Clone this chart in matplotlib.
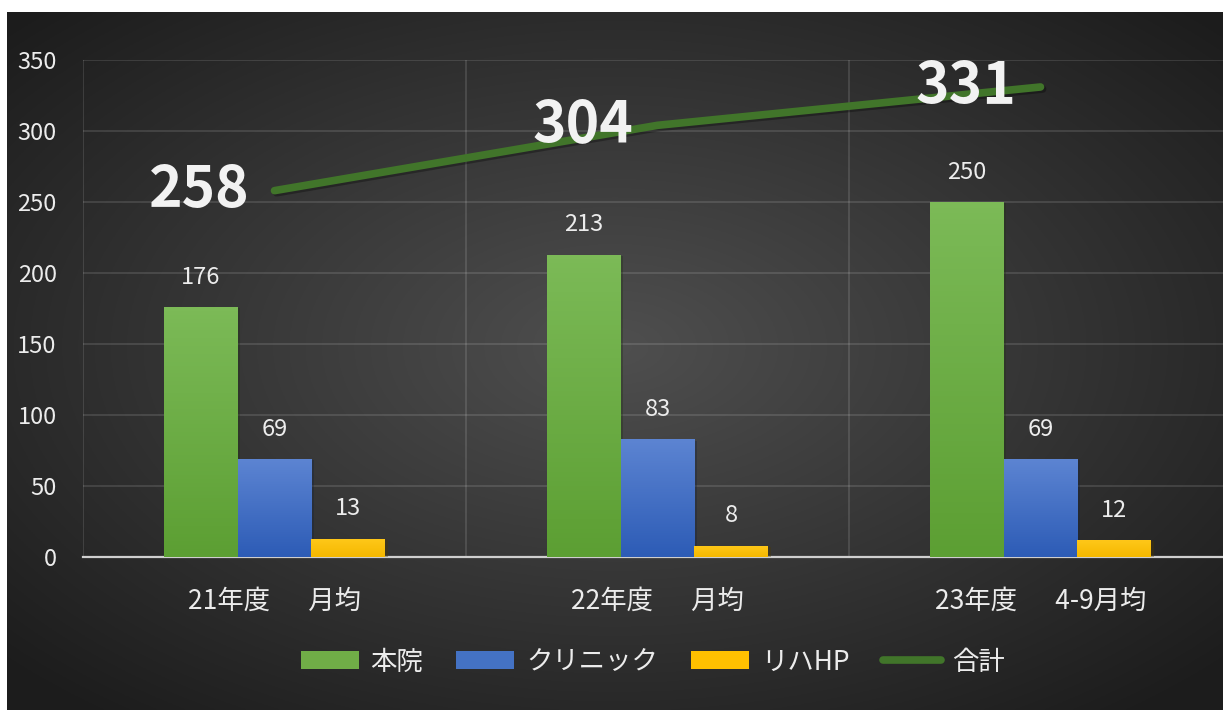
import numpy as np
import matplotlib
matplotlib.use('Agg')
import matplotlib.pyplot as plt
from matplotlib.patches import Patch
from matplotlib.lines import Line2D
import matplotlib.patheffects as pe

plt.rcParams['font.family'] = ['Noto Sans CJK JP', 'DejaVu Sans']

# ---- data ----
categories = ['21年度\u3000  月均', '22年度\u3000  月均', '23年度\u3000  4-9月均']
series_names = ['本院', 'クリニック', 'リハHP']
honin = [176, 213, 250]
clinic = [69, 83, 69]
riha = [13, 8, 12]
total = [258, 304, 331]
total_name = '合計'

# top / bottom gradient colours per series
grad = [('#7cba57', '#5c9f33'), ('#5c84d2', '#2d5cb6'), ('#ffc81a', '#f5b800')]
solid = ['#70ad47', '#4472c4', '#ffc000']
line_c = '#41752a'
txt_c = '#ececec'

W, H = 1223, 713
fig = plt.figure(figsize=(W / 100, H / 100), dpi=100)
fig.patch.set_facecolor('white')

# radial dark background
bg = fig.add_axes([7 / W, 3 / H, 1216 / W, 698 / H], zorder=-10)
yy, xx = np.mgrid[0:1:400j, 0:1:700j]
r = np.sqrt(((xx - 0.5) / 0.75) ** 2 + ((yy - 0.48) / 0.75) ** 2)
val = np.clip(0.31 - 0.22 * r, 0.11, 1)
bg.imshow(np.dstack([val, val, val]), aspect='auto', extent=(0, 1, 0, 1))
bg.axis('off')

ax = fig.add_axes([83 / W, (H - 557) / H, (1232 - 83) / W, (557 - 60) / H])
ax.set_facecolor('none')

x = np.arange(len(categories))
bw = 0.193
vals = [honin, clinic, riha]
for i, v in enumerate(vals):
    bars = ax.bar(x + (i - 1) * bw, v, bw, color=solid[i], zorder=3,
                  path_effects=[pe.SimplePatchShadow(offset=(2, -1), alpha=0.35),
                                pe.Normal()])
    cm = matplotlib.colors.LinearSegmentedColormap.from_list('g%d' % i, [grad[i][1], grad[i][0]])
    for b in bars:
        bx, by = b.get_x(), b.get_y()
        im = ax.imshow(np.linspace(0, 1, 64).reshape(-1, 1), cmap=cm, aspect='auto',
                       origin='lower', extent=(bx, bx + b.get_width(), by, by + b.get_height()),
                       zorder=3.5)
        im.set_clip_path(b)
        ax.annotate(str(b.get_height()), (bx + b.get_width() / 2, b.get_height()),
                    xytext=(0, 21.5), textcoords='offset points', ha='center', va='center',
                    fontsize=17, color=txt_c, zorder=6)

ax.plot(x, total, color=line_c, lw=5.5, solid_capstyle='round', zorder=5,
        path_effects=[pe.SimpleLineShadow(offset=(1.5, -1.5), alpha=0.3), pe.Normal()])
for xi, t in zip(x, total):
    ax.annotate(str(t), (xi, t), xytext=(-54, 0), textcoords='offset points',
                ha='center', va='center', fontsize=41, weight='bold', color='#f2f2f2', zorder=6)

ax.set_xlim(-0.5, 2.5)
ax.set_ylim(0, 350)
ax.set_yticks(range(0, 351, 50))
ax.set_xticks(x)
ax.set_xticklabels(categories)
ax.set_xticks([-0.5, 0.5, 1.5, 2.5], minor=True)
ax.grid(True, axis='y', color='#ffffff', alpha=0.13, lw=1.3)
ax.grid(True, axis='x', which='minor', color='#ffffff', alpha=0.13, lw=1.3)
ax.tick_params(axis='both', which='both', length=0, colors=txt_c)
ax.tick_params(axis='y', labelsize=17, pad=19)
ax.tick_params(axis='x', labelsize=19, pad=22)
for s in ['top', 'right', 'left']:
    ax.spines[s].set_visible(False)
ax.spines['bottom'].set_color('#cfcfcf')
ax.spines['bottom'].set_linewidth(1.6)
ax.set_axisbelow(True)

handles = [Patch(facecolor=solid[i], label=series_names[i]) for i in range(3)]
handles.append(Line2D([0], [0], color=line_c, lw=5.5, solid_capstyle='round', label=total_name))
fig.legend(handles=handles, loc='center', bbox_to_anchor=(653 / W, 1 - 662 / H), ncol=4,
           frameon=False, fontsize=19, labelcolor=txt_c, handlelength=2.2, handleheight=0.68,
           handletextpad=0.45, columnspacing=1.25)

fig.savefig('out.png', dpi=100)
